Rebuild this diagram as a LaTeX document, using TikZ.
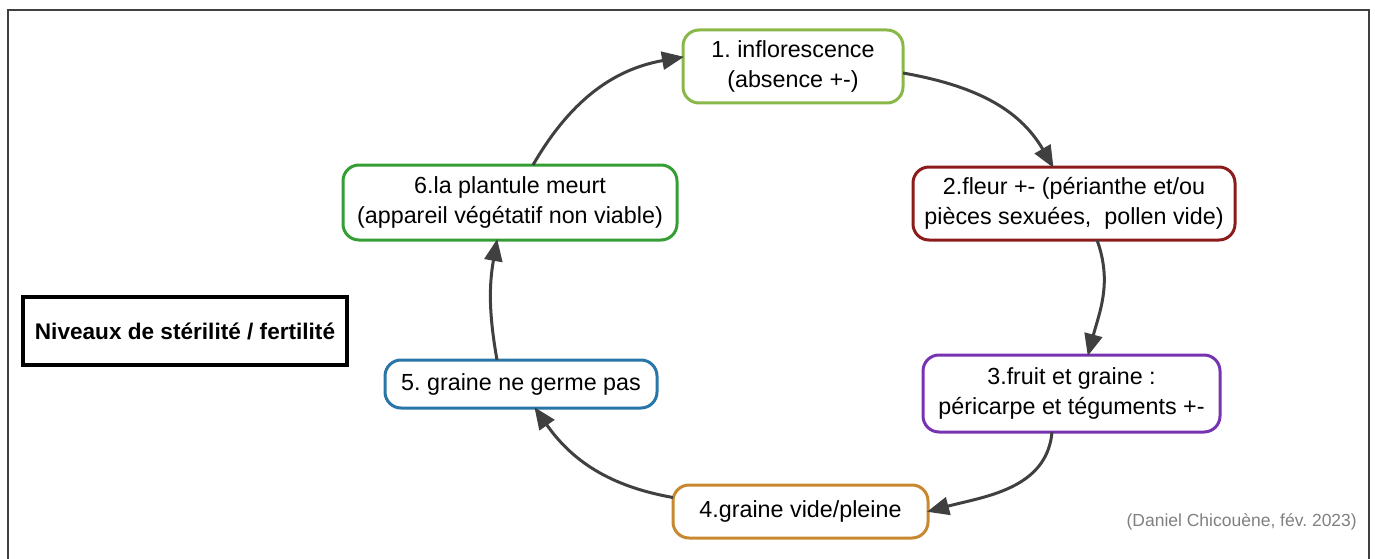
\documentclass[tikz,border=0pt]{standalone}
\usepackage{fontspec}
\setmainfont{Liberation Sans}
\usetikzlibrary{arrows.meta}
\frenchspacing
\definecolor{cA}{RGB}{138,184,72}
\definecolor{cB}{RGB}{140,28,28}
\definecolor{cC}{RGB}{118,52,178}
\definecolor{cD}{RGB}{200,136,48}
\definecolor{cE}{RGB}{40,118,168}
\definecolor{cF}{RGB}{52,158,52}
\definecolor{arr}{RGB}{64,64,64}
\definecolor{credit}{RGB}{128,128,128}
\begin{document}
\begin{tikzpicture}[x=1pt,y=-1pt,
  stagebox/.style={draw, line width=3pt, rounded corners=16pt, fill=white,
    align=center, inner sep=0pt, outer sep=0pt,
    font=\fontsize{23.3}{29.5}\selectfont},
  flow/.style={draw=arr, line width=3pt,
    -{Triangle[length=22pt,width=18pt]}, shorten >=-1pt}]
\useasboundingbox (0,0) rectangle (1375,559);
\draw[line width=2.5pt, black!75] (8,562) -- (8,10) -- (1369,10) -- (1369,562);
\node[stagebox, draw=cA, minimum width=220pt, minimum height=73pt] (b1) at (793,66.5) {1. inflorescence\\(absence +-)};
\node[stagebox, draw=cB, minimum width=322pt, minimum height=73pt] (b2) at (1074,203.5) {2.fleur +- (périanthe et/ou\\pièces sexuées,~ pollen vide)};
\node[stagebox, draw=cC, minimum width=297pt, minimum height=77pt] (b3) at (1071.5,393.5) {3.fruit et graine :\\péricarpe et téguments +-};
\node[stagebox, draw=cD, minimum width=255pt, minimum height=53pt] (b4) at (800.5,511.5) {4.graine vide/pleine};
\node[stagebox, draw=cE, minimum width=272pt, minimum height=48pt] (b5) at (521,384) {5. graine ne germe pas};
\node[stagebox, draw=cF, minimum width=334pt, minimum height=75pt] (b6) at (510,202.5) {6.la plantule meurt\\(appareil végétatif non viable)};
\node[draw=black, line width=4pt, minimum width=324pt, minimum height=68pt, inner sep=0pt,
  font=\bfseries\fontsize{22.6}{29}\selectfont] (title) at (185,331) {Niveaux de stérilité / fertilité};
\node[anchor=east, text=credit, inner sep=0pt, font=\fontsize{17.5}{21}\selectfont] (credit) at (1357,522) {(Daniel Chicouène, fév. 2023)};
\draw[flow] ([yshift=-6.5pt]b1.east) to[out=-10,in=120] ([xshift=-21pt]b2.north);
\draw[flow] ([xshift=23pt]b2.south) to[out=-70,in=75] ([xshift=16.5pt]b3.north);
\draw[flow] ([xshift=-19.5pt]b3.south) to[out=-95,in=15] (b4.east);
\draw[flow] ([yshift=14pt]b4.west) to[out=170,in=-55] ([xshift=14pt]b5.south);
\draw[flow] ([xshift=-24pt]b5.north) to[out=100,in=-100] ([xshift=-13pt]b6.south);
\draw[flow] ([xshift=23pt]b6.north) to[out=60,in=190] ([yshift=9.5pt]b1.west);
\end{tikzpicture}
\end{document}
